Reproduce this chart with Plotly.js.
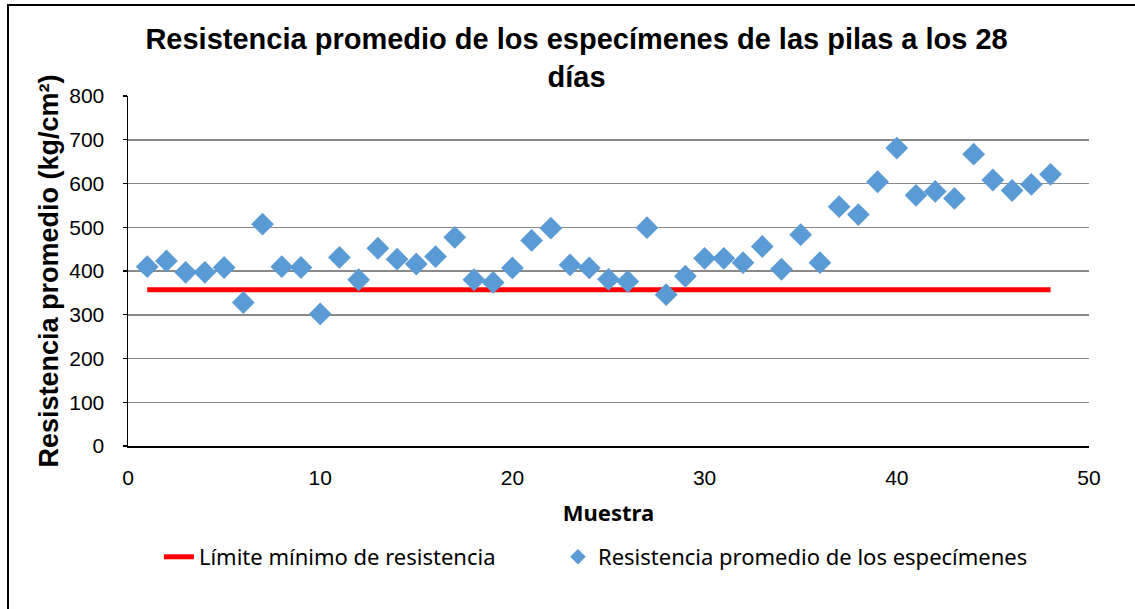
<!DOCTYPE html>
<html>
<head>
<meta charset="utf-8">
<script src="https://cdn.plot.ly/plotly-3.0.1.min.js"></script>
<style>
html,body{margin:0;padding:0;background:#fff;}
#wrap{position:relative;width:1135px;height:609px;overflow:hidden;}
#chart{position:absolute;left:0;top:0;width:1135px;height:609px;}
#frame{position:absolute;left:7px;top:4px;width:1200px;height:700px;border-left:2px solid #000;border-top:2px solid #000;pointer-events:none;}
</style>
</head>
<body>
<div id="wrap"><div id="chart"></div><div id="frame"></div></div>
<script>
// Data
const muestra = [1,2,3,4,5,6,7,8,9,10,11,12,13,14,15,16,17,18,19,20,21,22,23,24,25,26,27,28,29,30,31,32,33,34,35,36,37,38,39,40,41,42,43,44,45,46,47,48];
const resistencia = [410,423,397,397,408,328,507,410,408,302,431,380,452,427,416,433,477,380,374,407,470,498,414,407,381,376,499,346,388,429,429,419,456,404,483,419,547,529,604,681,573,582,566,667,608,584,598,621];
const limiteX = [1,48];
const limiteY = [357,357];
const serieLimite = 'Límite mínimo de resistencia';
const serieResistencia = 'Resistencia promedio de los especímenes';
const titulo = 'Resistencia promedio de los especímenes de las pilas a los 28<br>días';
const tituloY = 'Resistencia promedio (kg/cm²)';
const tituloX = 'Muestra';

const traces = [
  {x: limiteX, y: limiteY, type: 'scatter', mode: 'lines', name: serieLimite, legend: 'legend',
   line: {color: '#FF0000', width: 5}},
  {x: muestra, y: resistencia, type: 'scatter', mode: 'markers', name: serieResistencia, legend: 'legend2',
   marker: {symbol: 'diamond', size: 17.5, color: '#5B9BD5', line: {width: 0}}}
];

const legendFont = {family: 'Noto Sans, sans-serif', size: 22, color: '#000'};

const layout = {
  width: 1135, height: 609,
  margin: {l: 127.5, r: 46, t: 96, b: 163},
  paper_bgcolor: '#fff', plot_bgcolor: '#fff',
  font: {family: 'Liberation Sans, Arial, sans-serif', color: '#000', size: 21},
  title: {text: titulo, x: 0.508, xref: 'container', xanchor: 'center', y: 0.919, yref: 'container', yanchor: 'top',
          font: {family: 'Liberation Sans, Arial, sans-serif', size: 29, color: '#000', weight: 'bold'}},
  xaxis: {range: [0, 50], dtick: 10, tick0: 0, showgrid: false, zeroline: false,
          showline: true, linecolor: '#000', linewidth: 1.5, ticks: '', ticklabelstandoff: 12,
          tickfont: {size: 21, family: 'Liberation Sans, Arial, sans-serif'},
          title: {text: tituloX, standoff: 18, font: {family: 'Noto Sans, sans-serif', size: 22, weight: 'bold'}}},
  yaxis: {range: [0, 800], dtick: 100, tick0: 0, showgrid: true, gridcolor: '#8a8a8a', gridwidth: 1.5, zeroline: false,
          showline: true, linecolor: '#000', linewidth: 1.5, ticks: 'outside', ticklen: 4, tickcolor: '#000', tickwidth: 1.2,
          ticklabelstandoff: 14,
          tickfont: {size: 21, family: 'Liberation Sans, Arial, sans-serif'},
          title: {text: tituloY, standoff: 3, font: {family: 'Liberation Sans, Arial, sans-serif', size: 27, weight: 'bold'}}},
  legend: {orientation: 'h', x: 0.14, xref: 'container', xanchor: 'left', y: 0.0854, yref: 'container', yanchor: 'middle',
           font: legendFont, itemsizing: 'constant', bgcolor: 'rgba(0,0,0,0)'},
  legend2: {orientation: 'h', x: 0.4916, xref: 'container', xanchor: 'left', y: 0.0854, yref: 'container', yanchor: 'middle',
           font: legendFont, itemsizing: 'constant', bgcolor: 'rgba(0,0,0,0)'},
  showlegend: true
};

Plotly.newPlot('chart', traces, layout, {displayModeBar: false, staticPlot: true});
</script>
</body>
</html>
